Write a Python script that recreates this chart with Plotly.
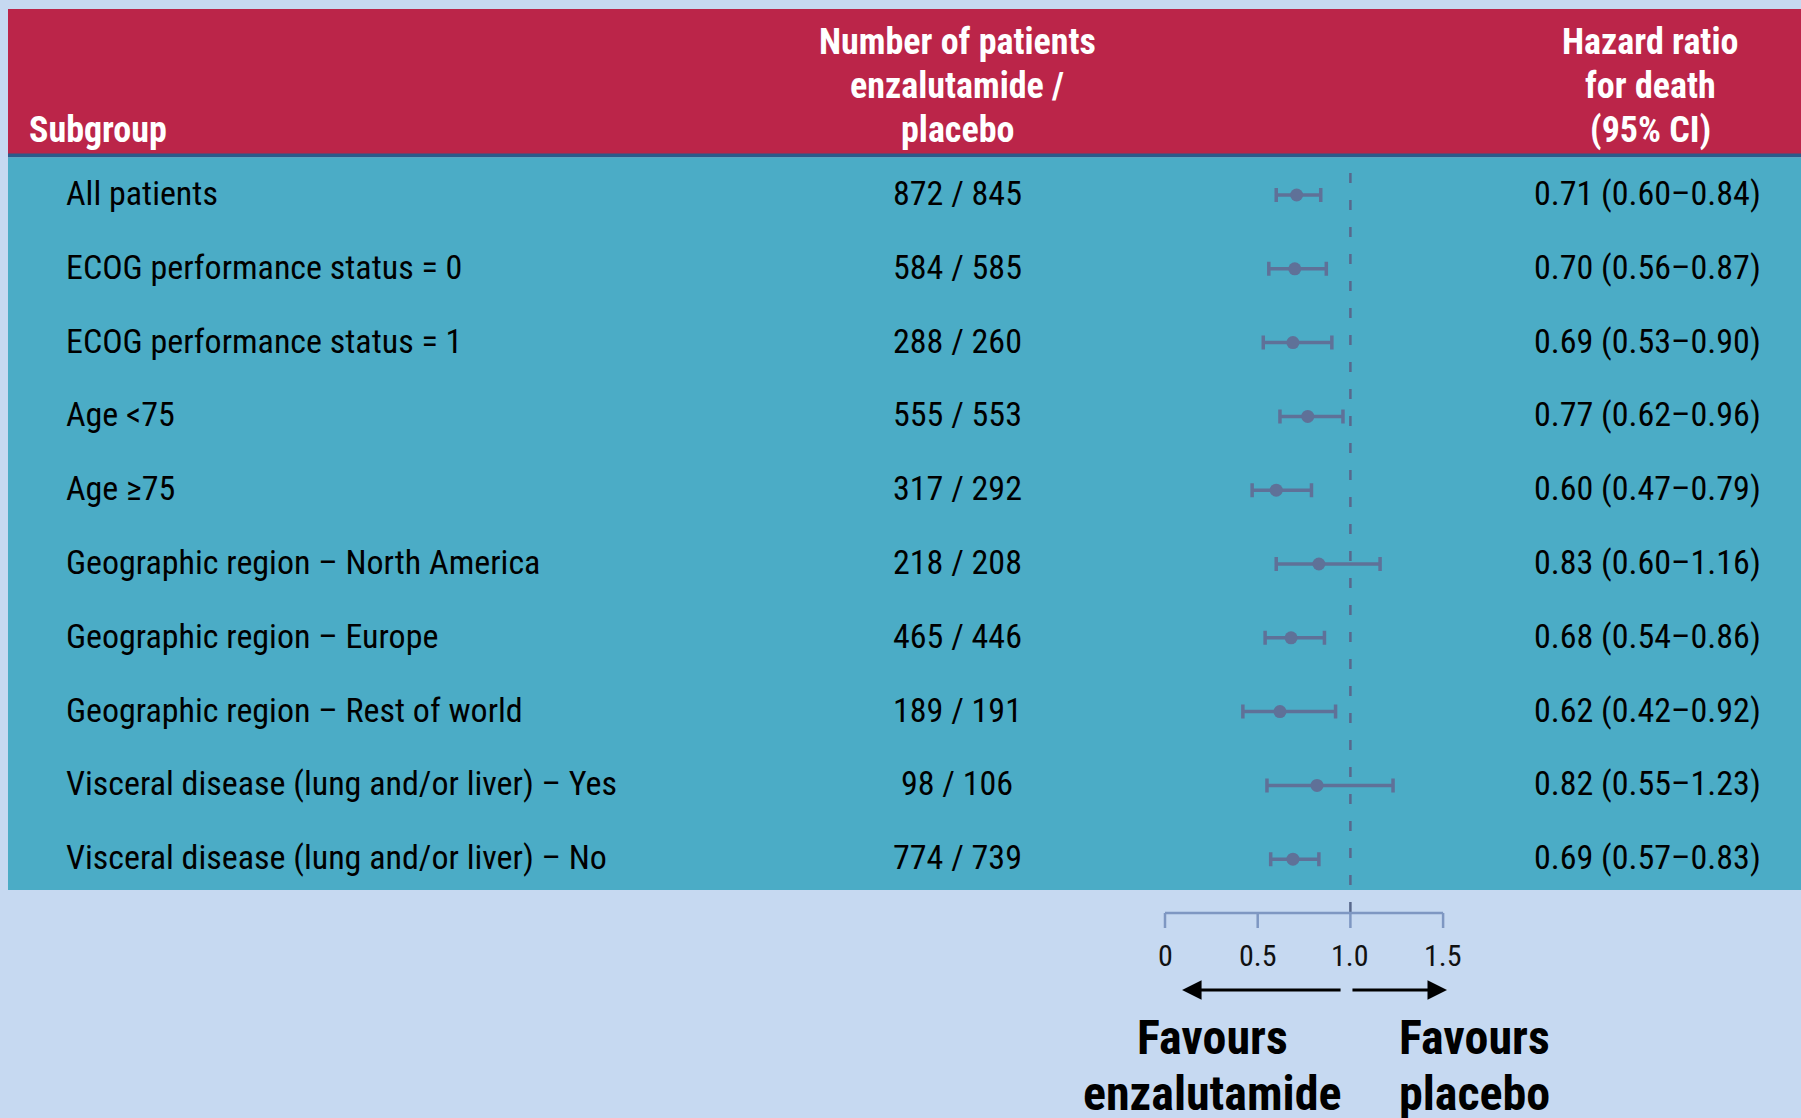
import plotly.graph_objects as go

# ---- data -------------------------------------------------------------
subgroups = [
    "All patients",
    "ECOG performance status = 0",
    "ECOG performance status = 1",
    "Age <75",
    "Age \u226575",
    "Geographic region \u2013 North America",
    "Geographic region \u2013 Europe",
    "Geographic region \u2013 Rest of world",
    "Visceral disease (lung and/or liver) \u2013 Yes",
    "Visceral disease (lung and/or liver) \u2013 No",
]
n_enzalutamide = [872, 584, 288, 555, 317, 218, 465, 189, 98, 774]
n_placebo = [845, 585, 260, 553, 292, 208, 446, 191, 106, 739]
hazard_ratio = [0.71, 0.70, 0.69, 0.77, 0.60, 0.83, 0.68, 0.62, 0.82, 0.69]
ci_low = [0.60, 0.56, 0.53, 0.62, 0.47, 0.60, 0.54, 0.42, 0.55, 0.57]
ci_high = [0.84, 0.87, 0.90, 0.96, 0.79, 1.16, 0.86, 0.92, 1.23, 0.83]
tick_values = [0, 0.5, 1.0, 1.5]
tick_labels = ["0", "0.5", "1.0", "1.5"]

# ---- page geometry ----------------------------------------------------
W, H = 1801, 1118
FONT = "Liberation Sans Narrow, Arial Narrow, Roboto Condensed, sans-serif"
PAGE_BG = "#C6D9F1"
TEAL = "#4BACC6"
RED = "#BB2549"
RULE = "#2C5A8A"
MARK = "#5F7198"
AXIS = "#7E97C2"
ROW_SIZE = 34

X0_PX, X_UNIT = 1165.0, 185.4      # pixel of HR=0, pixels per HR unit
Y0_PX, Y_UNIT = 195.0, 73.8        # pixel of first row, pixels per row


def px(x):
    return x / W


def py(y):
    return 1 - y / H


rows = list(range(len(subgroups)))

fig = go.Figure()

# point estimates with 95% CI
fig.add_trace(go.Scatter(
    x=hazard_ratio,
    y=rows,
    mode="markers",
    marker=dict(color=MARK, size=13),
    error_x=dict(
        type="data",
        symmetric=False,
        array=[h - m for h, m in zip(ci_high, hazard_ratio)],
        arrayminus=[m - l for m, l in zip(hazard_ratio, ci_low)],
        color=MARK,
        thickness=3.5,
        width=7,
    ),
    hoverinfo="skip",
    showlegend=False,
))

shapes = [
    # header band, rule and body band
    dict(type="rect", xref="paper", yref="paper", x0=px(8), x1=1, y0=py(154), y1=py(9),
         fillcolor=RED, line_width=0, layer="below"),
    dict(type="rect", xref="paper", yref="paper", x0=px(8), x1=1, y0=py(157.5), y1=py(153.5),
         fillcolor=RULE, line_width=0, layer="below"),
    dict(type="rect", xref="paper", yref="paper", x0=px(8), x1=1, y0=py(890), y1=py(157.5),
         fillcolor=TEAL, line_width=0, layer="below"),
    # line of no effect
    dict(type="line", xref="x", yref="paper", x0=1.0, x1=1.0, y0=py(912), y1=py(173),
         line=dict(color="#58688C", width=2.5, dash="10px,17px"), layer="below"),
    # hazard-ratio axis
    dict(type="line", xref="x", yref="paper", x0=tick_values[0], x1=tick_values[-1],
         y0=py(913), y1=py(913), line=dict(color=AXIS, width=2.5)),
]
for tv in tick_values:
    shapes.append(dict(type="line", xref="x", yref="paper", x0=tv, x1=tv,
                       y0=py(913), y1=py(928), line=dict(color=AXIS, width=2.5)))

annotations = []


def text(x, y, s, size, anchor="center", bold=False, color="#000000", xref="paper", yref="paper"):
    annotations.append(dict(
        x=x, y=y, xref=xref, yref=yref, text=f"<b>{s}</b>" if bold else s,
        showarrow=False, xanchor=anchor, yanchor="middle",
        font=dict(family=FONT, size=size, color=color),
    ))


# header
text(px(27), py(130), "Subgroup", 36, anchor="left", bold=True, color="white")
for line, yy in zip(["Number of patients", "enzalutamide /", "placebo"], [42, 86, 130]):
    text(px(957), py(yy), line, 36, bold=True, color="white")
for line, yy in zip(["Hazard ratio", "for death", "(95% CI)"], [42, 86, 130]):
    text(px(1650), py(yy), line, 36, bold=True, color="white")

# table rows
for i, name in enumerate(subgroups):
    yy = Y0_PX + i * Y_UNIT - 2
    text(px(64), py(yy), name, ROW_SIZE, anchor="left")
    text(px(957), py(yy), f"{n_enzalutamide[i]} / {n_placebo[i]}", ROW_SIZE)
    text(px(1763), py(yy),
         f"{hazard_ratio[i]:.2f} ({ci_low[i]:.2f}\u2013{ci_high[i]:.2f})", ROW_SIZE, anchor="right")

# tick labels
for tv, tl in zip(tick_values, tick_labels):
    text(tv, py(955), tl, 30, xref="x", color="#111111")

# direction arrows
for tip, tail in [(0.092, 0.955), (1.521, 1.003)]:
    annotations.append(dict(
        x=tip, y=py(990), ax=tail, ay=0,
        xref="x", yref="paper", axref="x", ayref="pixel",
        text="", showarrow=True, arrowhead=2, arrowsize=1.3, arrowwidth=3,
        arrowcolor="#000000", standoff=0,
    ))

# favour labels
text(px(1212), py(1037), "Favours", 48, bold=True)
text(px(1212), py(1093), "enzalutamide", 48, bold=True)
text(px(1397), py(1037), "Favours", 48, anchor="left", bold=True)
text(px(1397), py(1093), "placebo", 48, anchor="left", bold=True)

fig.update_layout(
    width=W, height=H,
    margin=dict(l=0, r=0, t=0, b=0),
    paper_bgcolor=PAGE_BG,
    plot_bgcolor="rgba(0,0,0,0)",
    xaxis=dict(range=[-X0_PX / X_UNIT, (W - X0_PX) / X_UNIT], domain=[0, 1],
               visible=False, fixedrange=True),
    yaxis=dict(range=[(H - Y0_PX) / Y_UNIT, -Y0_PX / Y_UNIT], domain=[0, 1],
               visible=False, fixedrange=True),
    shapes=shapes,
    annotations=annotations,
)

fig.write_html("out.html")
